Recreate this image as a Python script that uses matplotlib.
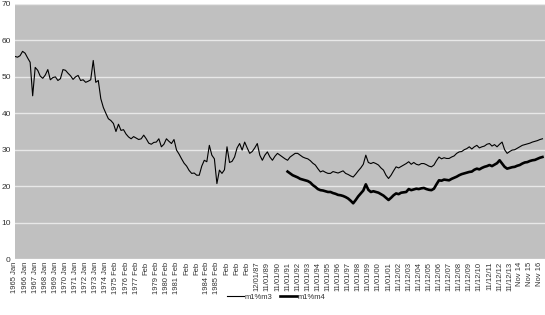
import numpy as np
import matplotlib.pyplot as plt

# quarterly readings, 1965 Q1 onwards
m1_m3 = [
    55.6, 55.4, 55.8, 57.0,
    56.5, 55.2, 54.0, 44.8,
    52.6, 51.8, 50.2, 49.6,
    50.5, 52.0, 49.2, 49.8,
    50.0, 49.0, 49.5, 52.0,
    51.8, 51.0, 50.3, 49.3,
    50.0, 50.4, 49.0, 49.2,
    48.5, 48.8, 49.2, 54.5,
    48.5, 49.0, 44.0, 41.6,
    40.0, 38.5, 38.0, 37.2,
    35.0, 37.0, 35.3, 35.5,
    34.3, 33.5, 33.0, 33.6,
    33.2, 32.8, 33.0, 34.0,
    33.0, 31.8, 31.5, 32.0,
    32.1, 33.0, 30.8, 31.5,
    33.0, 32.3, 31.7, 32.8,
    29.9, 28.8, 27.5, 26.3,
    25.5, 24.3, 23.5, 23.6,
    23.0, 23.0, 25.5, 27.1,
    26.7, 31.2, 28.5, 27.5,
    20.7, 24.4, 23.5, 24.5,
    30.8, 26.5, 26.8, 28.0,
    30.5, 31.7, 29.9, 32.1,
    30.5, 29.0, 29.5, 30.5,
    31.7, 28.5, 27.1, 28.5,
    29.4, 28.0, 27.1, 28.2,
    29.0, 28.5, 28.0, 27.5,
    27.1, 28.0, 28.5, 29.0,
    29.0, 28.5, 28.0, 27.7,
    27.5, 27.0, 26.3, 25.8,
    24.8, 23.9, 24.2, 23.8,
    23.5, 23.5, 24.0, 23.8,
    23.6, 23.9, 24.2, 23.5,
    23.2, 22.8, 22.5, 23.3,
    24.2, 25.0, 26.0, 28.5,
    26.5, 26.2, 26.5, 26.2,
    25.8, 25.0, 24.4, 23.0,
    22.1, 23.0, 24.2, 25.3,
    25.0, 25.4, 25.8, 26.2,
    26.7, 26.0, 26.5, 26.0,
    25.8, 26.2, 26.2, 25.9,
    25.5, 25.3, 25.8, 27.0,
    28.0, 27.5, 27.8, 27.6,
    27.6, 28.0, 28.3, 29.0,
    29.4, 29.5, 30.0, 30.3,
    30.8, 30.2, 30.8, 31.2,
    30.5, 30.8, 31.0, 31.5,
    31.7, 31.0, 31.4, 30.8,
    31.5, 32.1, 30.0, 29.0,
    29.5, 29.9, 30.0, 30.4,
    30.8, 31.2, 31.4, 31.6,
    31.8, 32.1, 32.3, 32.5,
    32.8, 33.0,
]

# m1%m4 starts in 1992 Q1 (quarter 108)
m4_start = 108
m1_m4 = [
    24.0, 23.5, 23.0, 22.7,
    22.4, 22.0, 21.8, 21.6,
    21.4, 21.0, 20.3, 19.8,
    19.2, 18.9, 18.8, 18.6,
    18.4, 18.4, 18.1, 17.9,
    17.6, 17.5, 17.3, 17.0,
    16.6, 16.0, 15.3, 16.2,
    17.2, 18.0, 18.8, 20.5,
    19.0, 18.4, 18.6, 18.4,
    18.2, 17.8, 17.4, 16.8,
    16.2, 16.8, 17.5, 18.0,
    17.8, 18.2, 18.3, 18.4,
    19.2, 18.9, 19.1, 19.3,
    19.2, 19.4, 19.5, 19.2,
    19.0, 18.9, 19.3, 20.5,
    21.6, 21.5, 21.8, 21.7,
    21.6, 22.0, 22.3, 22.6,
    23.0, 23.3, 23.5, 23.7,
    23.9, 24.0, 24.5, 24.8,
    24.6, 25.0, 25.3, 25.5,
    25.8, 25.5, 25.9, 26.3,
    27.1, 26.2, 25.3, 24.8,
    25.0, 25.2, 25.3, 25.6,
    25.8, 26.2, 26.5, 26.6,
    26.9, 27.1, 27.2, 27.5,
    27.8, 28.0,
]

tick_labels = [
    "1965 Jan", "1966 Jan", "1967 Jan", "1968 Jan", "1969 Jan", "1970 Jan",
    "1971 Jan", "1972 Jan", "1973 Jan", "1974 Jan", "1975 Feb", "1976 Feb",
    "1977 Feb", "Feb", "1979 Feb", "1980 Feb", "1981 Feb", "Feb", "Feb",
    "1984 Feb", "1985 Feb", "Feb", "Feb", "Feb", "12/01/87", "11/01/89",
    "11/01/90", "11/01/91", "11/01/92", "11/01/93", "11/01/94", "11/01/95",
    "11/01/96", "11/01/97", "11/01/98", "11/01/99", "11/01/00", "11/01/01",
    "11/12/02", "11/12/03", "11/12/04", "11/12/05", "11/12/06", "11/12/07",
    "11/12/08", "11/12/09", "11/12/10", "11/12/11", "11/12/12", "11/12/13",
    "Nov 14", "Nov 15", "Nov 16",
]

plt.rcParams['font.family'] = ['Liberation Sans', 'DejaVu Sans']

fig = plt.figure(figsize=(5.45, 3.15), dpi=100)
ax = fig.add_axes([15 / 545, 1 - 259 / 315, 530 / 545, 255 / 315])
ax.set_facecolor('#c0c0c0')

x3 = np.arange(len(m1_m3)) / 4
x4 = (m4_start + np.arange(len(m1_m4))) / 4
ax.plot(x3, m1_m3, color='black', lw=0.8, label='m1%m3')
ax.plot(x4, m1_m4, color='black', lw=1.9, label='m1%m4')

ax.set_ylim(0, 70)
ax.set_yticks(range(0, 71, 10))
ax.set_xlim(0, 52.5)
ax.set_xticks(range(len(tick_labels)))
ax.set_xticklabels(tick_labels, rotation=90, fontsize=5.5)
ax.tick_params(axis='y', labelsize=6, length=0, pad=3, labelcolor='#333333')
ax.tick_params(axis='x', length=0, pad=2, labelcolor='#333333')
ax.grid(axis='y', color='#e8e8e8', lw=1)
ax.set_axisbelow(True)
for s in ax.spines.values():
    s.set_visible(False)

fig.legend(loc='center', bbox_to_anchor=(276 / 545, 1 - 297 / 315), ncol=2,
           frameon=False, fontsize=5.5, handlelength=2.2, columnspacing=1.0,
           handletextpad=0.1, labelcolor='#333333')

fig.savefig('out.png', dpi=100)
